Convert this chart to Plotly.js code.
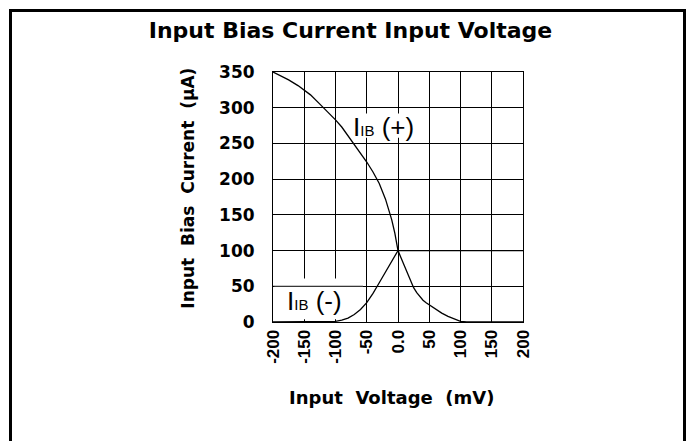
<!DOCTYPE html>
<html>
<head>
<meta charset="utf-8">
<script src="https://cdn.plot.ly/plotly-3.0.1.min.js"></script>
<style>
  html, body { margin: 0; padding: 0; background: #fff; }
  #chart { width: 694px; height: 441px; }
</style>
</head>
<body>
<div id="chart"></div>
<script>
// ---- data ----
const ibPlusX = [-200, -190, -175, -160, -150, -140, -125, -110, -100, -90, -75, -60, -50, -40, -30, -20, -15, -10, -5, 0, 10, 20, 25, 30, 35, 40, 45, 50, 60, 70, 80, 90, 100, 110, 150, 200];
const ibPlusY = [350, 346, 339, 331, 325, 318, 305, 292, 283, 273, 255, 236, 224, 210, 194, 172, 158, 143, 124, 100, 79, 58, 48, 41, 35, 30.5, 27, 24, 17.5, 12.5, 8, 4, 1, 0.3, 0, 0];

const ibMinusX = [-200, -150, -120, -110, -100, -90, -80, -70, -60, -50, -45, -40, -30, -20, -10, 0, 50, 100, 150, 200];
const ibMinusY = [0, 0, 0, 0.3, 1, 2.5, 5.5, 10.5, 17.5, 27, 33, 40, 55, 70, 85, 100, 100, 100, 100, 100];

const xTickVals = [-200, -150, -100, -50, 0, 50, 100, 150, 200];
const xTickText = ['-200', '-150', '-100', '-50', '0.0', '50', '100', '150', '200'];
const yTickVals = [0, 50, 100, 150, 200, 250, 300, 350];

const titleText = 'Input Bias Current Input Voltage';
const xTitle = 'Input\u00a0\u00a0Voltage\u00a0\u00a0(mV)\u00a0\u00a0';
const yTitle = '\u00a0\u00a0\u00a0Input\u00a0\u00a0Bias\u00a0\u00a0Current\u00a0\u00a0(\u00b5A)';
const labelPlus = 'I<span style="font-size:15px">IB</span> (+)';
const labelMinus = 'I<span style="font-size:15px">IB</span> (-)';

const W = 694, H = 441;
const L = 273, R = 171, T = 72, B = 119;
const pw = W - L - R, ph = H - T - B;
function px2paperX(px) { return (px - L) / pw; }
function px2paperY(py) { return (H - B - py) / ph; }

const traces = [
  { x: ibPlusX, y: ibPlusY, mode: 'lines', line: { color: '#000', width: 1.3 }, hoverinfo: 'skip', showlegend: false },
  { x: ibMinusX, y: ibMinusY, mode: 'lines', line: { color: '#000', width: 1.3 }, hoverinfo: 'skip', showlegend: false }
];

const boldDeja = 'DejaVu Sans, sans-serif';
const arialLike = 'Liberation Sans, Arial, sans-serif';

const layout = {
  width: W, height: H,
  margin: { l: L, r: R, t: T, b: B, pad: 0 },
  paper_bgcolor: '#fff', plot_bgcolor: '#fff',
  showlegend: false,
  title: {
    text: '<b>' + titleText + '</b>',
    font: { family: boldDeja, size: 22, color: '#000' },
    xref: 'container', yref: 'container',
    x: 350.5 / W, xanchor: 'center',
    y: 1 - 30 / H, yanchor: 'middle'
  },
  xaxis: {
    range: [-200, 200],
    tickmode: 'array', tickvals: xTickVals, ticktext: xTickText,
    tickangle: -90,
    tickfont: { family: arialLike, size: 17, color: '#000', weight: 'bold' },
    ticks: '', ticklabelstandoff: 0,
    showgrid: true, gridcolor: '#000', gridwidth: 1,
    showline: true, linecolor: '#000', linewidth: 1, mirror: true,
    zeroline: false,
    title: { text: '<b>' + xTitle + '</b>', font: { family: boldDeja, size: 18, color: '#000' }, standoff: 28 },
    fixedrange: true
  },
  yaxis: {
    range: [0, 350],
    tickmode: 'array', tickvals: yTickVals,
    tickfont: { family: boldDeja, size: 17, color: '#000', weight: 'bold' },
    ticks: '', ticklabelstandoff: 14,
    showgrid: true, gridcolor: '#000', gridwidth: 1,
    showline: true, linecolor: '#000', linewidth: 1, mirror: true,
    zeroline: false,
    title: { text: '<b>' + yTitle + '</b>', font: { family: boldDeja, size: 17, color: '#000' }, standoff: 20 },
    fixedrange: true
  },
  shapes: [
    { type: 'rect', xref: 'x', yref: 'y', x0: -198, x1: -56, y0: 4, y1: 61, fillcolor: '#fff', line: { width: 0 }, layer: 'between' },
    { type: 'line', xref: 'x', yref: 'y', x0: -200, x1: -56, y0: 50, y1: 50, line: { color: '#000', width: 1 }, layer: 'between' },
    { type: 'rect', xref: 'x', yref: 'y', x0: -76, x1: 30, y0: 258, y1: 292, fillcolor: '#fff', line: { width: 0 }, layer: 'between' },
    { type: 'rect', xref: 'paper', yref: 'paper',
      x0: px2paperX(10.5), x1: px2paperX(684.5), y0: px2paperY(460), y1: px2paperY(10.5),
      line: { color: '#000', width: 3 }, fillcolor: 'rgba(0,0,0,0)', layer: 'above' }
  ],
  annotations: [
    { x: -22.5, y: 273, xref: 'x', yref: 'y', text: labelPlus, showarrow: false,
      font: { family: arialLike, size: 26, color: '#000' }, xanchor: 'center', yanchor: 'middle' },
    { x: -133, y: 30, xref: 'x', yref: 'y', text: labelMinus, showarrow: false,
      font: { family: arialLike, size: 26, color: '#000' }, xanchor: 'center', yanchor: 'middle' }
  ]
};

Plotly.newPlot('chart', traces, layout, { staticPlot: true, displayModeBar: false });
</script>
</body>
</html>
